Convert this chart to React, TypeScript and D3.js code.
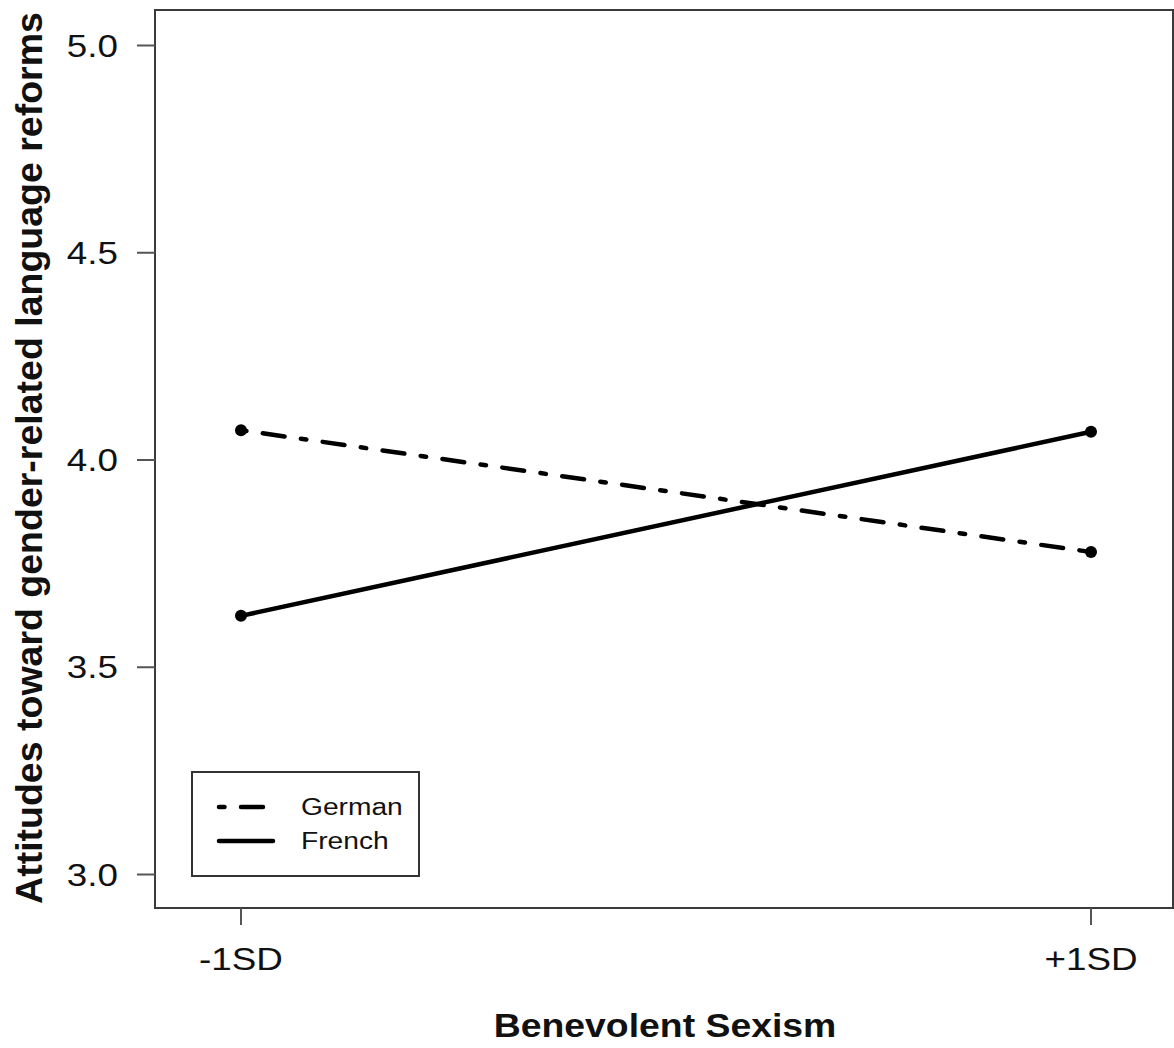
import React, { useEffect, useRef } from 'react';
import * as d3 from 'd3';

const categories = ['-1SD', '+1SD'];
const germanValues = [4.072, 3.778];
const frenchValues = [3.624, 4.068];
const yTicks = [3.0, 3.5, 4.0, 4.5, 5.0];
const seriesNames = ['German', 'French'];

const W = 1174;
const H = 1048;
const FONT = '"Liberation Sans", Arial, Helvetica, sans-serif';

const App = () => {
  const ref = useRef<SVGSVGElement | null>(null);

  useEffect(() => {
    draw();
  }, []);

  const draw = () => {
    const svg = d3.select(ref.current);
    svg.selectAll('*').remove();

    const box = { left: 155, top: 10, right: 1173, bottom: 908 };
    const x = d3.scalePoint<string>().domain(categories).range([241, 1091]);
    const y = d3.scaleLinear().domain([3, 5]).range([874.5, 45.5]);
    const sx = 1.15; // the reference is a bit wide in x

    const hText = (g: any, tx: number, ty: number, txt: string, size: number, anchor: string, weight = 'normal') =>
      g.append('text')
        .attr('transform', `translate(${tx},${ty}) scale(${sx},1)`)
        .attr('text-anchor', anchor)
        .attr('font-family', FONT)
        .attr('font-size', size)
        .attr('font-weight', weight)
        .attr('fill', '#111')
        .text(txt);

    // plot box
    svg.append('rect')
      .attr('x', box.left).attr('y', box.top)
      .attr('width', box.right - box.left).attr('height', box.bottom - box.top)
      .attr('fill', 'none').attr('stroke', '#3a3a3a').attr('stroke-width', 2);

    // y axis ticks and labels
    yTicks.forEach((t) => {
      svg.append('line')
        .attr('x1', box.left - 18).attr('x2', box.left)
        .attr('y1', y(t)).attr('y2', y(t))
        .attr('stroke', '#555').attr('stroke-width', 2);
      hText(svg, 118, y(t) + 11, t.toFixed(1), 32, 'end');
    });

    // x axis ticks and labels
    categories.forEach((c) => {
      svg.append('line')
        .attr('x1', x(c)!).attr('x2', x(c)!)
        .attr('y1', box.bottom).attr('y2', box.bottom + 17)
        .attr('stroke', '#555').attr('stroke-width', 2);
      hText(svg, x(c)!, 970, c, 32, 'middle');
    });

    // axis titles
    hText(svg, 665, 1037, 'Benevolent Sexism', 32.5, 'middle', 'bold');
    svg.append('text')
      .attr('transform', `translate(42,458) rotate(-90)`)
      .attr('text-anchor', 'middle')
      .attr('font-family', FONT)
      .attr('font-size', 37.5)
      .attr('font-weight', 'bold')
      .attr('fill', '#111')
      .text('Attitudes toward gender-related language reforms');

    const line = d3.line<number>()
      .x((_, i) => x(categories[i])!)
      .y((d) => y(d));

    const dotdash = '5.5,16.5,22,16.5';

    svg.append('path')
      .attr('d', line(germanValues))
      .attr('fill', 'none').attr('stroke', '#000')
      .attr('stroke-width', 4.5).attr('stroke-linecap', 'round')
      .attr('stroke-dasharray', dotdash);
    svg.append('path')
      .attr('d', line(frenchValues))
      .attr('fill', 'none').attr('stroke', '#000')
      .attr('stroke-width', 4.5).attr('stroke-linecap', 'round');

    [germanValues, frenchValues].forEach((vals) => {
      svg.selectAll(null)
        .data(vals)
        .enter()
        .append('circle')
        .attr('cx', (_, i) => x(categories[i])!)
        .attr('cy', (d) => y(d))
        .attr('r', 6)
        .attr('fill', '#000');
    });

    // legend
    const lg = svg.append('g');
    lg.append('rect')
      .attr('x', 192).attr('y', 772).attr('width', 227).attr('height', 104)
      .attr('fill', '#fff').attr('stroke', '#333').attr('stroke-width', 2);
    const legendY = [807, 841];
    seriesNames.forEach((name, i) => {
      lg.append('line')
        .attr('x1', 219).attr('x2', i === 0 ? 264 : 273)
        .attr('y1', legendY[i]).attr('y2', legendY[i])
        .attr('stroke', '#000').attr('stroke-width', 4.5)
        .attr('stroke-linecap', 'round')
        .attr('stroke-dasharray', i === 0 ? dotdash : null);
      hText(lg, 301, legendY[i] + 8, name, 24.5, 'start');
    });
  };

  return (
    <svg
      ref={ref}
      width={W}
      height={H}
      style={{ position: 'absolute', left: 0, top: 0, background: '#fff' }}
    />
  );
};

export default App;
